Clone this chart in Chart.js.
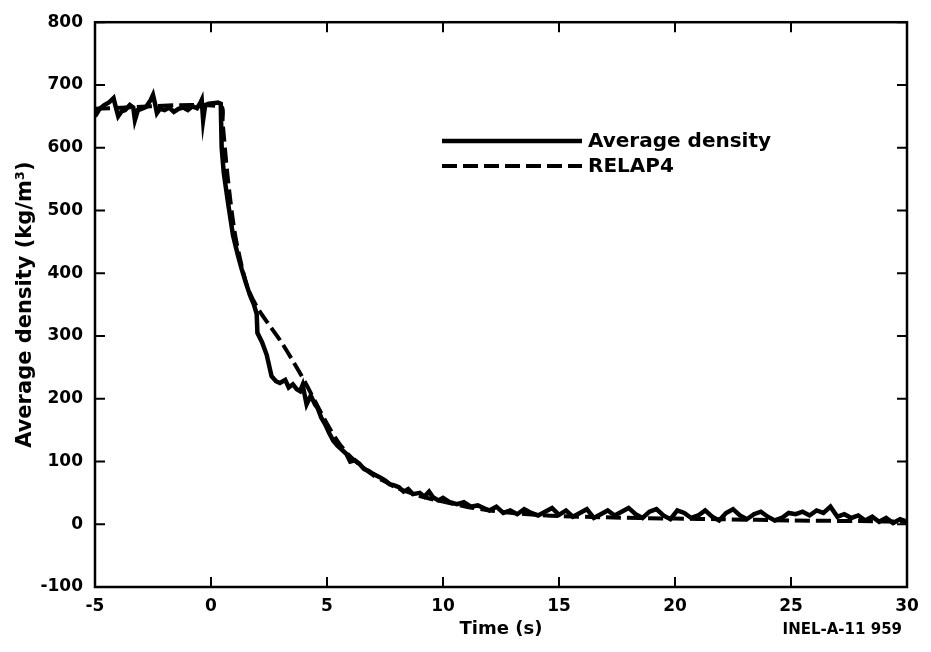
<!DOCTYPE html>
<html>
<head>
<meta charset="utf-8">
<script src="https://cdn.jsdelivr.net/npm/chart.js@4/dist/chart.umd.min.js"></script>
<style>
  html, body { margin: 0; padding: 0; background: #fff; }
  #wrap { width: 931px; height: 652px; }
</style>
</head>
<body>
<div id="wrap"><canvas id="density"></canvas></div>
<script>
  // measured average density (solid trace)
  const avgTime = [
    -5.0, -4.8, -4.6, -4.4, -4.2, -4.1, -4.0, -3.85, -3.7, -3.5, -3.35, -3.28, -3.15, -3.0, -2.8, -2.6, -2.5, -2.4, -2.33, -2.2,
    -2.0, -1.8, -1.6, -1.4, -1.2, -1.0, -0.8, -0.6, -0.45, -0.4, -0.34, -0.25, -0.1, 0.1, 0.3, 0.42, 0.46, 0.55, 0.73, 0.95,
    1.15, 1.32, 1.5, 1.68, 1.85, 1.97, 2.0, 2.2, 2.4, 2.61, 2.8, 2.97, 3.2, 3.35, 3.53, 3.7, 3.84, 3.95, 4.12, 4.3,
    4.48, 4.6, 4.75, 4.91, 5.1, 5.27, 5.45, 5.6, 5.84, 6.0, 6.2, 6.4, 6.6, 6.8, 7.0, 7.27, 7.5, 7.7, 7.9, 8.1,
    8.3, 8.5, 8.7, 9.0, 9.2, 9.4, 9.57, 9.8, 10.0, 10.3, 10.6, 10.9, 11.2, 11.5, 11.8, 12.0, 12.3, 12.6, 12.9, 13.2,
    13.5, 13.8, 14.1, 14.4, 14.7, 15.0, 15.3, 15.6, 15.9, 16.2, 16.5, 16.8, 17.1, 17.4, 17.7, 18.0, 18.3, 18.6, 18.9, 19.2,
    19.5, 19.8, 20.1, 20.4, 20.7, 21.0, 21.3, 21.6, 21.9, 22.2, 22.5, 22.8, 23.1, 23.4, 23.7, 24.0, 24.3, 24.6, 24.9, 25.2,
    25.5, 25.8, 26.1, 26.4, 26.7, 27.0, 27.3, 27.6, 27.9, 28.2, 28.5, 28.8, 29.1, 29.4, 29.7, 30.0
  ];
  const avgDensity = [
    650, 662, 668, 672, 679, 664, 650, 658, 660, 668, 664, 644, 660, 662, 665, 676, 684, 668, 655, 662,
    660, 664, 657, 662, 664, 660, 666, 663, 672, 676, 644, 668, 670, 671, 672, 670, 600, 560, 513, 460,
    430, 407, 385, 365, 350, 335, 305, 290, 270, 236, 228, 225, 230, 218, 223, 215, 212, 222, 191, 205,
    191, 185, 170, 160, 145, 133, 125, 120, 112, 100, 102, 96, 88, 85, 80, 75, 70, 64, 62, 59,
    52, 56, 48, 50, 44, 52, 43, 38, 42, 35, 32, 35, 28, 30, 25, 22, 28, 18, 22, 16,
    24, 18, 14, 20, 26, 15, 22, 12, 18, 24, 10, 16, 22, 14, 20, 26, 16, 10, 20, 24,
    14, 8, 22, 18, 10, 14, 22, 12, 6, 18, 24, 14, 8, 16, 20, 12, 6, 10, 18, 16,
    20, 14, 22, 18, 28, 12, 16, 10, 14, 6, 12, 4, 10, 2, 8, 4
  ];

  // RELAP4 calculation (dashed trace)
  const relapTime = [
    -5.0, 0.4, 0.5, 0.7, 1.0, 1.3, 1.6, 2.0, 2.5, 3.0, 3.5, 4.0, 4.5, 5.0, 5.5, 6.0, 6.5, 7.0, 7.5, 8.0,
    9.0, 10.0, 11.0, 12.0, 13.0, 14.0, 15.0, 17.0, 20.0, 22.0, 25.0, 28.0, 30.0
  ];
  const relapDensity = [
    662, 666, 640, 560, 470, 415, 375, 345, 318, 292, 262, 230, 195, 160, 130, 108, 92, 78, 68, 58,
    45, 36, 28, 22, 18, 15, 13, 11, 9, 8, 6, 5, 4
  ];

  const xTicks = [-5, 0, 5, 10, 15, 20, 25, 30];
  const yTicks = [-100, 0, 100, 200, 300, 400, 500, 600, 700, 800];

  const FONT = '"DejaVu Sans", "Liberation Sans", Arial, sans-serif';
  const INK = '#000';

  // frame, inward tick marks, in-plot legend and figure id
  const framePlugin = {
    id: 'frame',
    afterDraw(chart) {
      const ctx = chart.ctx;
      const a = chart.chartArea;
      const xs = chart.scales.x, ys = chart.scales.y;
      ctx.save();
      ctx.strokeStyle = INK;
      ctx.lineWidth = 2.5;
      ctx.strokeRect(a.left, a.top, a.right - a.left, a.bottom - a.top);
      ctx.lineWidth = 2;
      const len = 10;
      ctx.beginPath();
      xTicks.forEach(v => {
        const px = xs.getPixelForValue(v);
        ctx.moveTo(px, a.bottom); ctx.lineTo(px, a.bottom - len);
        ctx.moveTo(px, a.top); ctx.lineTo(px, a.top + len);
      });
      yTicks.forEach(v => {
        const py = ys.getPixelForValue(v);
        ctx.moveTo(a.left, py); ctx.lineTo(a.left + len, py);
        ctx.moveTo(a.right, py); ctx.lineTo(a.right - len, py);
      });
      ctx.stroke();

      // legend
      const lx = 442, lw = 140;
      ctx.font = 'bold 20px ' + FONT;
      ctx.textBaseline = 'middle';
      ctx.fillStyle = INK;
      chart.data.datasets.forEach((ds, i) => {
        const ly = 141 + i * 25;
        ctx.beginPath();
        ctx.lineWidth = ds.borderWidth;
        ctx.setLineDash(ds.borderDash || []);
        ctx.moveTo(lx, ly); ctx.lineTo(lx + lw, ly);
        ctx.stroke();
        ctx.setLineDash([]);
        ctx.fillText(ds.label, 588, ly + 1);
      });

      ctx.font = 'bold 15px ' + FONT;
      ctx.textAlign = 'right';
      ctx.fillText('INEL-A-11 959', 902, 630);
      ctx.restore();
    }
  };

  const ctx = document.getElementById('density').getContext('2d');

  const densityChart = new Chart(ctx, {
    type: 'line',
    data: {
      datasets: [
        {
          label: 'Average density',
          data: avgTime.map((t, i) => ({ x: t, y: avgDensity[i] })),
          borderColor: INK,
          borderWidth: 4.5,
          pointRadius: 0,
          tension: 0,
          fill: false
        },
        {
          label: 'RELAP4',
          data: relapTime.map((t, i) => ({ x: t, y: relapDensity[i] })),
          borderColor: INK,
          borderWidth: 4,
          borderDash: [15, 6],
          pointRadius: 0,
          tension: 0.3,
          fill: false
        }
      ]
    },
    options: {
      responsive: true,
      maintainAspectRatio: false,
      animation: false,
      layout: { padding: { left: 0, top: 11, right: 24, bottom: 0 } },
      plugins: {
        legend: { display: false },
        tooltip: { enabled: false }
      },
      scales: {
        x: {
          type: 'linear',
          min: -5,
          max: 30,
          afterBuildTicks: scale => { scale.ticks = xTicks.map(v => ({ value: v })); },
          afterFit: scale => { scale.height = 65; },
          grid: { display: false, drawTicks: false },
          border: { display: false },
          ticks: { color: INK, padding: 9, font: { family: FONT, size: 17, weight: 'bold' } },
          title: {
            display: true,
            text: 'Time (s)',
            color: INK,
            padding: { top: 0, bottom: 12 },
            font: { family: FONT, size: 18, weight: 'bold' }
          }
        },
        y: {
          min: -100,
          max: 800,
          afterBuildTicks: scale => { scale.ticks = yTicks.map(v => ({ value: v })); },
          afterFit: scale => { scale.width = 95; },
          grid: { display: false, drawTicks: false },
          border: { display: false },
          ticks: { color: INK, padding: 12, font: { family: FONT, size: 17, weight: 'bold' } },
          title: {
            display: true,
            text: 'Average density (kg/m³)',
            color: INK,
            padding: { top: 13, bottom: 0 },
            font: { family: FONT, size: 21, weight: 'bold' }
          }
        }
      }
    },
    plugins: [framePlugin]
  });
</script>
</body>
</html>
